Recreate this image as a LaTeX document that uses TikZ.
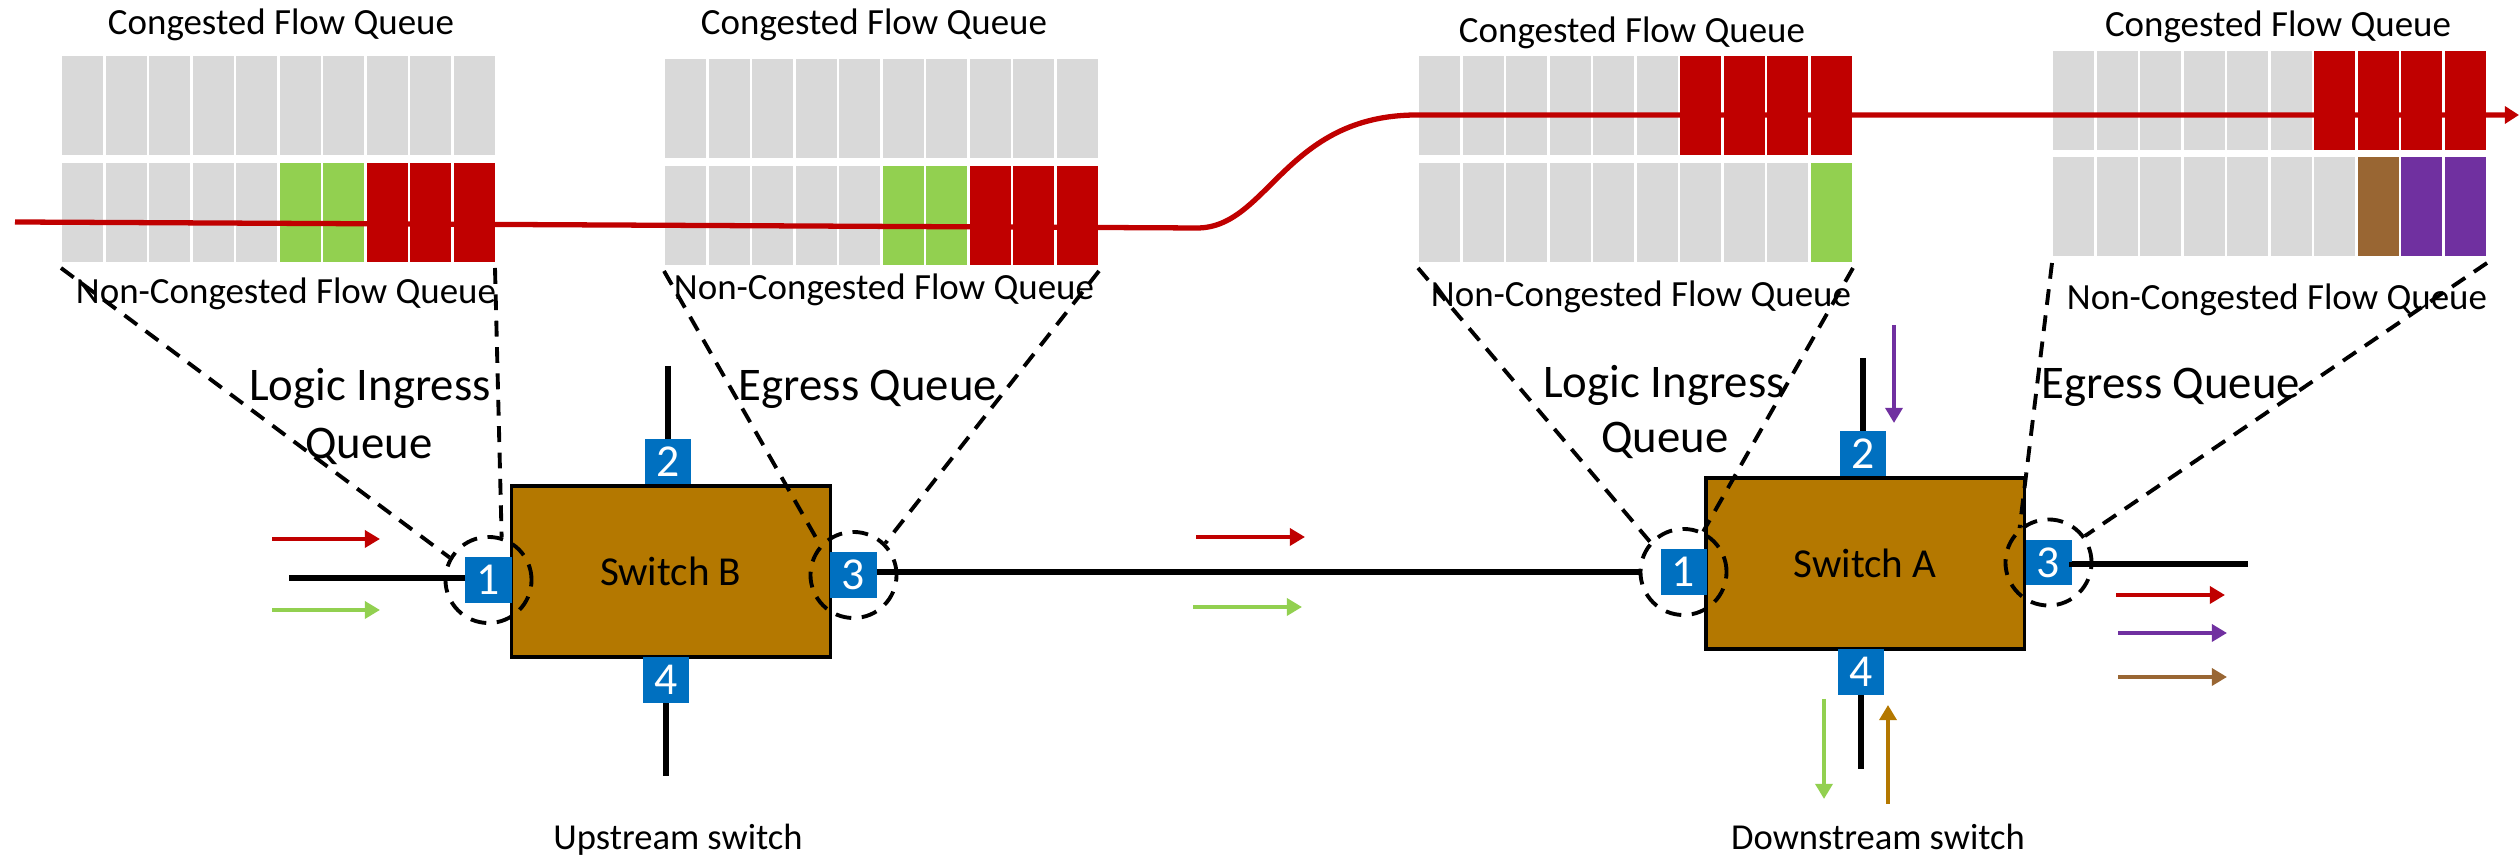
\documentclass[tikz,border=0pt]{standalone}
\usepackage{fontspec}
\setmainfont{Carlito}
\usetikzlibrary{arrows.meta}

\definecolor{qgray}{HTML}{D9D9D9}
\definecolor{qgreen}{HTML}{92D050}
\definecolor{qred}{HTML}{C00000}
\definecolor{qpurple}{HTML}{7030A0}
\definecolor{qbrown}{HTML}{996633}
\definecolor{swfill}{HTML}{B47800}
\definecolor{portblue}{HTML}{0070C0}

% one row of ten queue cells: #1 left x, #2 top y, #3 list of cell colours
\newcommand{\drawqrow}[3]{%
  \foreach \c [count=\i from 0] in {#3}
    \fill[\c] ({#1+\i*43.5+1.2},{#2}) rectangle ({#1+(\i+1)*43.5-1.2},{#2+99});}

\tikzset{
  port/.style={fill=portblue, text=white, minimum width=0.46cm, minimum height=0.45cm,
    inner sep=0pt, font=\fontsize{13}{13}\selectfont},
  switchbox/.style={draw, line width=0.9pt, fill=swfill, minimum width=3.186cm,
    minimum height=1.71cm, inner sep=0pt, font=\fontsize{11.7}{13}\selectfont},
  zoomring/.style={circle, draw, line width=1.1pt, dash pattern=on 4.5pt off 3pt,
    minimum size=0.86cm, inner sep=0pt},
  lead/.style={line width=1.1pt, dash pattern=on 4.5pt off 3pt},
  wire/.style={line width=1.6pt},
  flow/.style={line width=1.35pt, -{Triangle[length=4.3pt,width=4.8pt]}},
  flowline/.style={qred, line width=1.5pt, -{Triangle[length=4pt,width=4.8pt]}},
  qlabel/.style={font=\fontsize{10.5}{12}\selectfont, anchor=base, inner sep=0pt},
  biglabel/.style={font=\fontsize{13.3}{16}\selectfont, anchor=base, inner sep=0pt},
  caption/.style={font=\fontsize{10.4}{12}\selectfont, anchor=base, inner sep=0pt},
}

\begin{document}
\begin{tikzpicture}[x=0.01cm, y=-0.01cm]
\useasboundingbox (0,0) rectangle (2520,862);

% ---------- queues ----------
% upstream ingress queue
\drawqrow{61}{56}{qgray,qgray,qgray,qgray,qgray,qgray,qgray,qgray,qgray,qgray}
\drawqrow{61}{163}{qgray,qgray,qgray,qgray,qgray,qgreen,qgreen,qred,qred,qred}
% upstream egress queue
\drawqrow{664}{59}{qgray,qgray,qgray,qgray,qgray,qgray,qgray,qgray,qgray,qgray}
\drawqrow{664}{166}{qgray,qgray,qgray,qgray,qgray,qgreen,qgreen,qred,qred,qred}
% downstream ingress queue
\drawqrow{1418}{56}{qgray,qgray,qgray,qgray,qgray,qgray,qred,qred,qred,qred}
\drawqrow{1418}{163}{qgray,qgray,qgray,qgray,qgray,qgray,qgray,qgray,qgray,qgreen}
% downstream egress queue
\drawqrow{2052}{51}{qgray,qgray,qgray,qgray,qgray,qgray,qred,qred,qred,qred}
\drawqrow{2052}{157}{qgray,qgray,qgray,qgray,qgray,qgray,qgray,qbrown,qpurple,qpurple}

\coordinate (q1bl) at (61,268);   \coordinate (q1br) at (495,268);
\coordinate (q2bl) at (664,271);  \coordinate (q2br) at (1099,271);
\coordinate (q3bl) at (1418,268); \coordinate (q3br) at (1853,268);
\coordinate (q4bl) at (2052,263); \coordinate (q4br) at (2487,263);

% queue captions
\node[qlabel] (cq1) at (281,35)   {Congested Flow Queue};
\node[qlabel] (nq1) at (286,304)  {Non-Congested Flow Queue};
\node[qlabel] (cq2) at (874,35)   {Congested Flow Queue};
\node[qlabel] (nq2) at (884,300)  {Non-Congested Flow Queue};
\node[qlabel] (cq3) at (1632,43)  {Congested Flow Queue};
\node[qlabel] (nq3) at (1641,307) {Non-Congested Flow Queue};
\node[qlabel] (cq4) at (2278,37)  {Congested Flow Queue};
\node[qlabel] (nq4) at (2277,310) {Non-Congested Flow Queue};

% congested flow path through the queues
\coordinate (fin) at (15,222);
\coordinate (fbend) at (1197,228);
\coordinate (fup) at (1417,115);
\coordinate (fout) at (2519,115);
\draw[flowline] (fin) -- (fbend) .. controls (1268,228) and (1285,115) .. (fup) -- (fout);

% ---------- switches ----------
\node[switchbox] (swB) at (670.7,571.5) {Switch B};
\node[switchbox] (swA) at (1865.3,563.5) {Switch A};

\node[port] (pB1) at (488.5,580) {1};
\node[port] (pB2) at (668,462)   {2};
\node[port] (pB3) at (853.5,575) {3};
\node[port] (pB4) at (666,680)   {4};

\node[port] (pA1) at (1683.5,572) {1};
\node[port] (pA2) at (1863,454)   {2};
\node[port] (pA3) at (2048.5,562.5) {3};
\node[port] (pA4) at (1861,672)   {4};

% port rings
\node[zoomring] (cB1) at (pB1.center) {};
\node[zoomring] (cB3) at (pB3.center) {};
\node[zoomring] (cA1) at (pA1.center) {};
\node[zoomring] (cA3) at (pA3.center) {};

% links
\coordinate (inB) at (289,578);
\coordinate (upB) at (668,366);
\coordinate (dnB) at (666,776);
\coordinate (upA) at (1863,358);
\coordinate (dnA) at (1861,769);
\coordinate (outA) at (2248,564);
\draw[wire] (inB) -- (inB -| pB1.west);
\draw[wire] (upB) -- (pB2.north);
\draw[wire] (pB4.south) -- (dnB);
\draw[wire] (pB3.east |- cA1.west) -- (cA1.west);
\draw[wire] (upA) -- (pA2.north);
\draw[wire] (pA4.south) -- (dnA);
\draw[wire] (pA3.east) -- (outA -| pA3.east) -- (outA);

% zoom leads from rings to queues
\draw[lead] (q1bl) -- (cB1.150);
\draw[lead] (q1br) -- (cB1.73);
\draw[lead] (q2bl) -- (cB3.138);
\draw[lead] (q2br) -- (cB3.45);
\draw[lead] (q3bl) -- (cA1.138);
\draw[lead] (q3br) -- (cA1.64);
\draw[lead] (q4bl) -- (cA3.130);
\draw[lead] (q4br) -- (cA3.36);

% queue names
\node[biglabel] (liB) at (370,401)  {Logic Ingress};
\node[biglabel] (lqB) at (369,459)  {Queue};
\node[biglabel] (egB) at (868,401)  {Egress Queue};
\node[biglabel] (liA) at (1664,398) {Logic Ingress};
\node[biglabel] (lqA) at (1665,453) {Queue};
\node[biglabel] (egA) at (2171,399) {Egress Queue};

\node[caption] (capB) at (678,850)  {Upstream switch};
\node[caption] (capA) at (1878,850) {Downstream switch};

% ---------- flow arrows ----------
\coordinate (rB0) at (272,539);  \coordinate (rB1) at (380,539);
\coordinate (gB0) at (272,610);  \coordinate (gB1) at (380,610);
\coordinate (rM0) at (1196,537); \coordinate (rM1) at (1305,537);
\coordinate (gM0) at (1193,607); \coordinate (gM1) at (1302,607);
\coordinate (pD0) at (1894,325); \coordinate (pD1) at (1894,423);
\coordinate (gD0) at (1824,699); \coordinate (gD1) at (1824,799);
\coordinate (oU0) at (1888,804); \coordinate (oU1) at (1888,705);
\coordinate (rO0) at (2116,595); \coordinate (rO1) at (2225,595);
\coordinate (pO0) at (2118,633); \coordinate (pO1) at (2227,633);
\coordinate (bO0) at (2118,677); \coordinate (bO1) at (2227,677);

\draw[flow, qred]    (rB0) -- (rB1);
\draw[flow, qgreen]  (gB0) -- (gB1);
\draw[flow, qred]    (rM0) -- (rM1);
\draw[flow, qgreen]  (gM0) -- (gM1);
\draw[flow, qpurple] (pD0) -- (pD1);
\draw[flow, qgreen]  (gD0) -- (gD1);
\draw[flow, swfill]  (oU0) -- (oU1);
\draw[flow, qred]    (rO0) -- (rO1);
\draw[flow, qpurple] (pO0) -- (pO1);
\draw[flow, qbrown]  (bO0) -- (bO1);
\end{tikzpicture}
\end{document}
